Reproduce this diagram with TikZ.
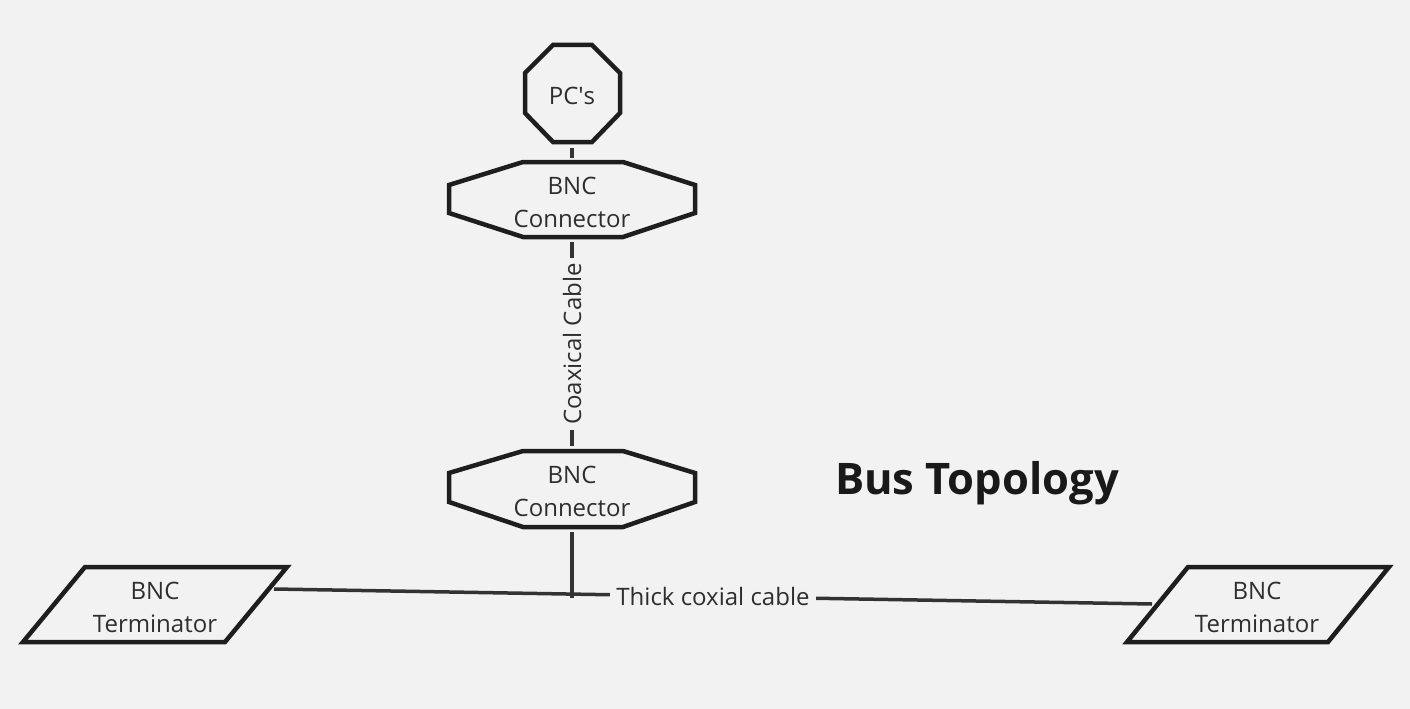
\documentclass[tikz,border=0pt]{standalone}
\usepackage{fontspec}
\setmainfont{Open Sans}
\usetikzlibrary{calc}
\definecolor{bg}{HTML}{F2F2F2}
\definecolor{stroke}{HTML}{1E1E1E}
\definecolor{wire}{HTML}{333333}
\definecolor{txt}{HTML}{2E2E2E}
\tikzset{
  shapeline/.style={draw=stroke, line width=4.5pt, line join=miter},
  cable/.style={draw=wire, line width=3.5pt},
  lbl/.style={text=txt, font=\fontsize{24}{33}\selectfont, align=center, inner sep=0pt},
  cablelbl/.style={text=txt, font=\fontsize{24}{33}\selectfont, fill=bg, inner xsep=6pt, inner ysep=2pt},
}
\begin{document}
\begin{tikzpicture}[x=1pt,y=-1pt]
\fill[bg] (0,0) rectangle (1410,709);
\useasboundingbox (0,0) rectangle (1410,709);

% shapes
\draw[shapeline] (553,45) -- (592,45) -- (620,73) -- (620,113) -- (592,142) -- (553,142) -- (525,113) -- (525,73) -- cycle;
\node[lbl, minimum width=95pt, minimum height=97pt] (pc) at (572,96) {PC\textquotesingle s};

\draw[shapeline] (523,162) -- (623,162) -- (695,185) -- (695,213) -- (623,237) -- (523,237) -- (449,213) -- (449,185) -- cycle;
\node[lbl, minimum width=246pt, minimum height=75pt] (bnc1) at (572,202) {BNC\\Connector};

\draw[shapeline] (523,451) -- (623,451) -- (695,473) -- (695,502) -- (623,527) -- (523,527) -- (449,502) -- (449,473) -- cycle;
\node[lbl, minimum width=246pt, minimum height=76pt] (bnc2) at (572,491) {BNC\\Connector};

\draw[shapeline] (85,567) -- (287,567) -- (225,642) -- (23,642) -- cycle;
\node[lbl] (lterm) at (155,607.5) {BNC\\Terminator};

\draw[shapeline] (1188,567) -- (1389,567) -- (1328,642) -- (1127,642) -- cycle;
\node[lbl] (rterm) at (1257,607.5) {BNC\\Terminator};

\node[text=black!90, font=\fontsize{43.5}{50}\selectfont\bfseries, inner sep=0pt] (title) at (977,483) {Bus Topology};

% connectors
\coordinate (lbus) at (274,589);
\coordinate (rbus) at (1152,604);
\coordinate (tee) at (572,598);

\draw[cable] ($(pc.south)+(0,3.5)$) -- ($(bnc1.north)+(0,-6.5)$);
\draw[cable] ($(bnc1.south)+(0,2.5)$) -- node[cablelbl, rotate=90, inner xsep=5pt] {Coaxical Cable} ($(bnc2.north)+(0,-7)$);
\draw[cable] ($(bnc2.south)+(0,3)$) -- (tee);
\draw[cable] (lbus) -- node[cablelbl, pos=0.5] {Thick coxial cable} (rbus);
\end{tikzpicture}
\end{document}
